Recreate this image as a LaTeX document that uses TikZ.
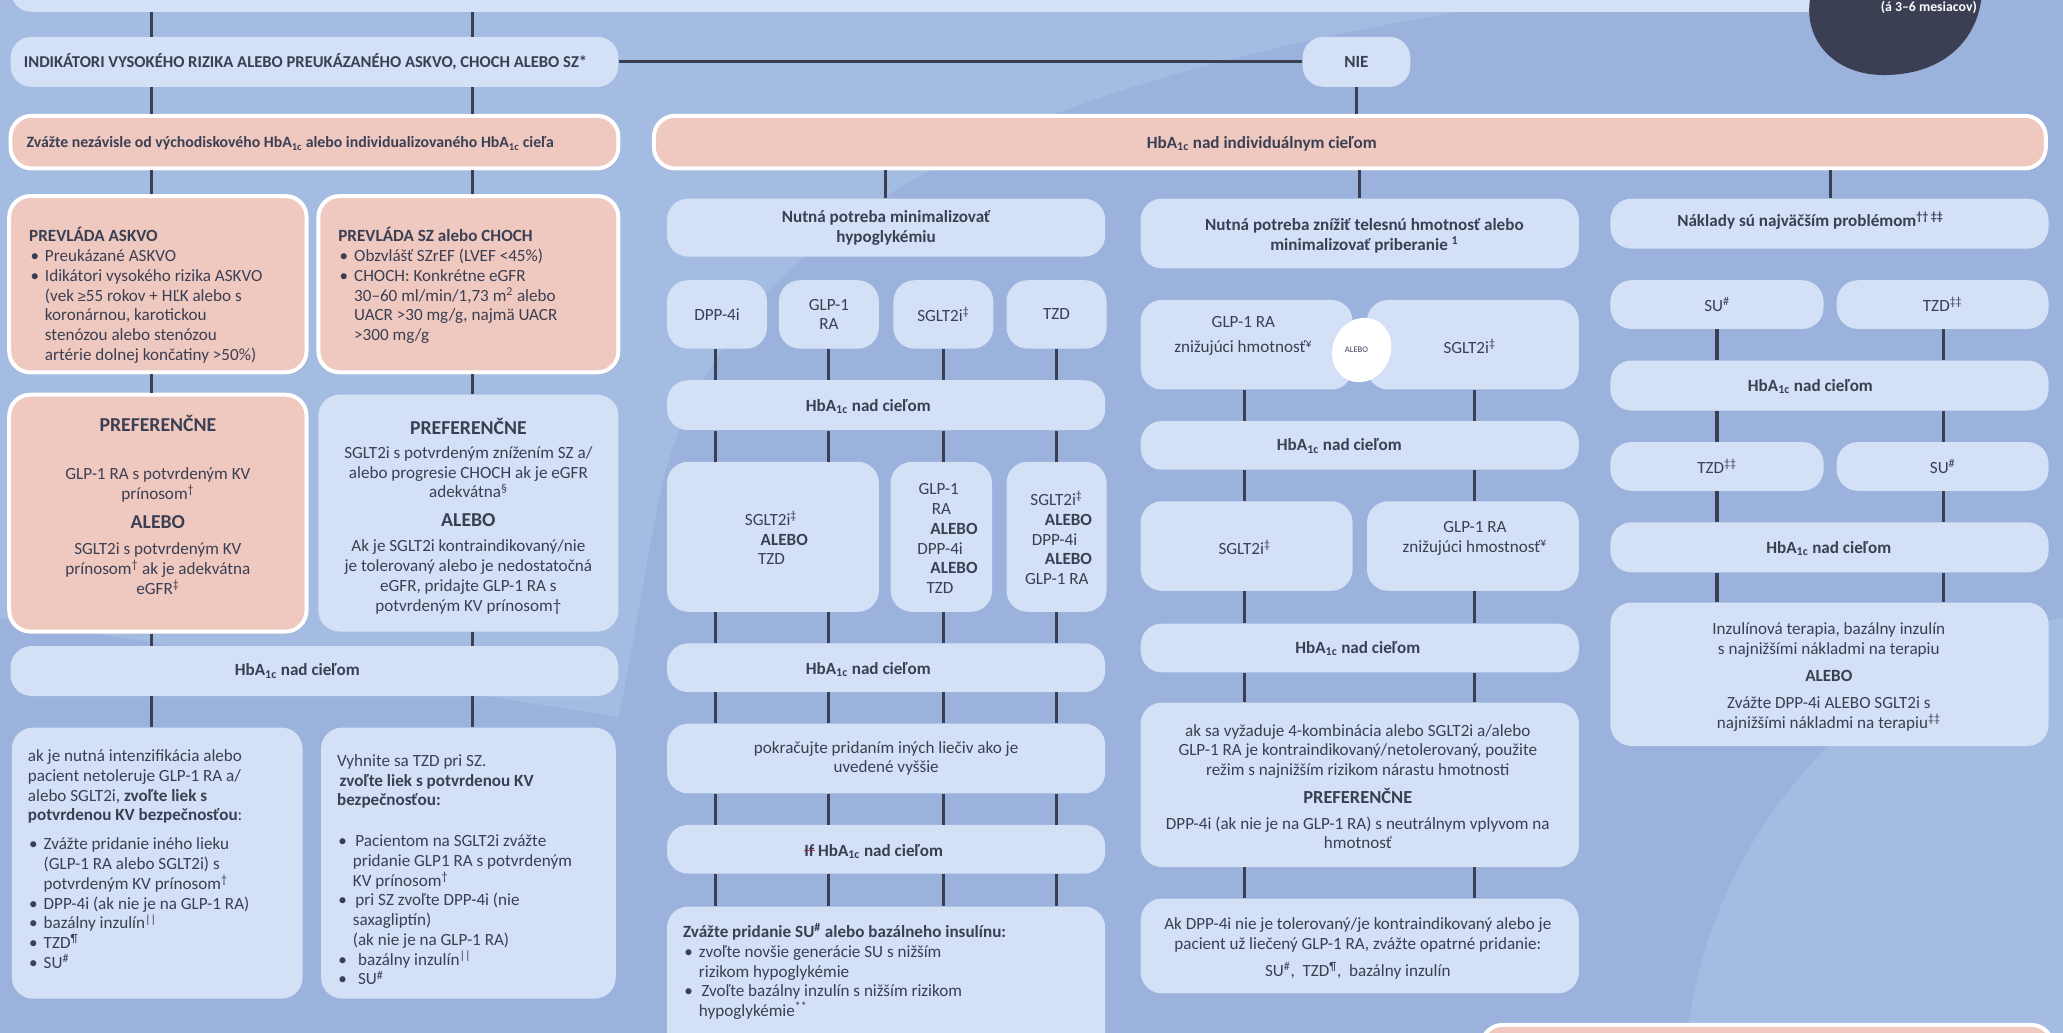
\documentclass[tikz,border=0pt]{standalone}
\usepackage{fontspec}
\setmainfont{Carlito}
\newfontfamily\symf{Liberation Sans}
\usetikzlibrary{shadows,shapes.geometric}
\definecolor{bg}{HTML}{9AB2DC}
\definecolor{bgl}{HTML}{A5BCE2}
\definecolor{lite}{HTML}{D3E0F5}
\definecolor{pinkf}{HTML}{EFC9BF}
\definecolor{ink}{HTML}{3B3F54}
\definecolor{strike}{HTML}{E03048}
\newcommand\bodyf{\fontsize{13}{15}\selectfont}
\newcommand\smhf{\fontsize{12}{14}\selectfont}
\newcommand\indf{\fontsize{12.6}{14}\selectfont}
\newcommand\bigf{\fontsize{15}{18}\selectfont}
\newcommand\midf{\fontsize{14}{17}\selectfont}
\newcommand\hba{HbA\textsubscript{1c}}
\newcommand\sps[1]{\textsuperscript{#1}}
\newcommand\bul{\makebox[11pt][l]{•}}
\tikzset{
 lbox/.style={fill=lite, draw=none, rounded corners=16pt, inner sep=0pt, text=ink, font=\bodyf, align=center},
 pbox/.style={fill=pinkf, draw=white, line width=3pt, rounded corners=16pt, inner sep=0pt, text=ink, font=\bodyf, align=center,
   drop shadow={shadow xshift=1.5pt, shadow yshift=-1.5pt, opacity=0.25}},
 conn/.style={draw=ink, line width=2.3pt},
 txt/.style={text=ink, font=\bodyf, inner sep=0pt, align=center},
 txtl/.style={text=ink, font=\bodyf, inner sep=0pt, align=left, anchor=west},
 hb/.style={text=ink, font=\bodyf\bfseries, inner sep=0pt},
}
\newcommand\bx[7]{\node[#2, minimum width={(#5)-(#3)}, minimum height={(#6)-(#4)}] (#1) at ({((#3)+(#5))/2},{((#4)+(#6))/2}) {#7};}
\begin{document}
\begin{tikzpicture}[x=1pt,y=-1pt]
\useasboundingbox (0,0) rectangle (1568,785);
\clip (0,0) rectangle (1568,785);
% background
\fill[bg] (0,0) rectangle (1568,785);
\fill[bgl] (0,0) -- (1165,0) .. controls (760,60) and (560,170) .. (505,360) .. controls (490,430) and (480,500) .. (470,545) -- (0,470) -- cycle;
\fill[bgl] (1650,830) circle[radius=370];
% column x positions
\foreach \n/\x in {ca/115, cb/359, cm0/673, cr0/1033, cn0/1391, cnie/1031, m1/544, m2/630, m3/717, m4/803, r1/946, r2/1121, n1/1305, n2/1477}
  \coordinate (\n) at (\x,0);
% top bar and dark blob
\bx{topbar}{lbox}{8}{-40}{1500}{9}{}
\fill[ink] (1376,-2) .. controls (1370,30) and (1394,58) .. (1434,57) .. controls (1480,56) and (1503,28) .. (1506,-2) -- cycle;
\node[font=\bfseries\fontsize{10.5}{12}\selectfont, text=white, inner sep=0pt] (blobtxt) at (1466,5.5) {(á 3–6 mesiacov)};
% row 1
\bx{ind}{lbox}{8}{28}{470}{66}{}
\node[hb, anchor=west, font=\indf\bfseries] (indt) at (18,47) {INDIKÁTORI VYSOKÉHO RIZIKA ALEBO PREUKÁZANÉHO ASKVO, CHOCH ALEBO SZ*};
\bx{nie}{lbox}{990}{28}{1072}{66}{\textbf{NIE}}
% row 2
\bx{hdl}{pbox}{8}{88}{470}{128}{}
\node[hb, anchor=west, font=\smhf\bfseries] (hdlt) at (20,109) {Zvážte nezávisle od východiskového \hba{} alebo individualizovaného \hba{} cieľa};
\bx{hdr}{pbox}{497}{88}{1555}{128}{}
\node[hb] (hdrt) at (959,109) {\hba{} nad individuálnym cieľom};
% ---------- left columns
\bx{ask}{pbox}{7}{149}{233}{283}{}
\node[txtl] (askt) at (22,224.5) {\textbf{PREVLÁDA ASKVO}\\
\hspace*{1pt}\bul Preukázané ASKVO\\
\hspace*{1pt}\bul Idikátori vysokého rizika ASKVO\\
\hspace*{12pt}(vek {\symf\fontsize{11}{13}\selectfont ≥}55 rokov + HĽK alebo s\\
\hspace*{12pt}koronárnou, karotickou\\
\hspace*{12pt}stenózou alebo stenózou\\
\hspace*{12pt}artérie dolnej končatiny >50\%)};
\bx{sz}{pbox}{242}{149}{470}{283}{}
\node[txtl] (szt) at (257,217) {\textbf{PREVLÁDA SZ alebo CHOCH}\\
\hspace*{1pt}\bul Obzvlášť SZrEF (LVEF <45\%)\\
\hspace*{1pt}\bul CHOCH: Konkrétne eGFR\\
\hspace*{12pt}30–60 ml/min/1,73 m\sps{2} alebo\\
\hspace*{12pt}UACR >30 mg/g, najmä UACR\\
\hspace*{12pt}>300 mg/g};
\bx{pf1}{pbox}{7}{300}{233}{480}{}
\node[txt, font=\bigf\bfseries] (p1a) at (120,322) {PREFERENČNE};
\node[txt] (p1b) at (120,368.5) {GLP-1 RA s potvrdeným KV\\prínosom\sps{†}};
\node[txt, font=\bigf\bfseries] (p1c) at (120,397) {ALEBO};
\node[txt] (p1d) at (120,432) {SGLT2i s potvrdeným KV\\prínosom\sps{†} ak je adekvátna\\eGFR\sps{‡}};
\bx{pf2}{lbox}{242}{300}{470}{480}{}
\node[txt, font=\bigf\bfseries] (p2a) at (356,324) {PREFERENČNE};
\node[txt] (p2b) at (356,359) {SGLT2i s potvrdeným znížením SZ a/\\alebo progresie CHOCH ak je eGFR\\adekvátna\sps{§}};
\node[txt, font=\bigf\bfseries] (p2c) at (356,395) {ALEBO};
\node[txt] (p2d) at (356,438.5) {Ak je SGLT2i kontraindikovaný/nie\\je tolerovaný alebo je nedostatočná\\eGFR, pridajte GLP-1 RA s\\potvrdeným KV prínosom†};
\bx{hbl}{lbox}{8}{491}{470}{529}{}
\node[hb] (hblt) at (226,510) {\hba{} nad cieľom};
\bx{bl1}{lbox}{9}{553}{230}{759}{}
\node[txtl] (bl1t) at (21,653) {ak je nutná intenzifikácia alebo\\pacient netoleruje GLP-1 RA a/\\alebo SGLT2i, \textbf{zvoľte liek s}\\\textbf{potvrdenou KV bezpečnosťou}:\\[7pt]
\hspace*{1pt}\bul Zvážte pridanie iného lieku\\
\hspace*{12pt}(GLP-1 RA alebo SGLT2i) s\\
\hspace*{12pt}potvrdeným KV prínosom\sps{†}\\
\hspace*{1pt}\bul DPP-4i (ak nie je na GLP-1 RA)\\
\hspace*{1pt}\bul bazálny inzulín\sps{||}\\
\hspace*{1pt}\bul TZD\sps{¶}\\
\hspace*{1pt}\bul SU\sps{\#}};
\bx{bl2}{lbox}{244}{553}{468}{759}{}
\node[txtl] (bl2t) at (256,661) {Vyhnite sa TZD pri SZ.\\
\hspace*{2pt}\textbf{zvoľte liek s potvrdenou KV}\\
\textbf{bezpečnosťou:}\\[16pt]
\hspace*{1pt}\bul\hspace*{2pt}Pacientom na SGLT2i zvážte\\
\hspace*{12pt}pridanie GLP1 RA s potvrdeným\\
\hspace*{12pt}KV prínosom\sps{†}\\
\hspace*{1pt}\bul\hspace*{2pt}pri SZ zvoľte DPP-4i (nie\\
\hspace*{12pt}saxagliptín)\\
\hspace*{12pt}(ak nie je na GLP-1 RA)\\
\hspace*{1pt}\bul\hspace*{4pt}bazálny inzulín\sps{||}\\
\hspace*{1pt}\bul\hspace*{4pt}SU\sps{\#}};
% ---------- middle column
\bx{mt}{lbox}{507}{151}{840}{195}{\textbf{Nutná potreba minimalizovať}\\\textbf{hypoglykémiu}}
\bx{ms1}{lbox}{507}{213}{583}{265}{DPP-4i}
\bx{ms2}{lbox}{592}{213}{668}{265}{GLP-1\\RA}
\bx{ms3}{lbox}{679}{213}{755}{265}{SGLT2i\sps{‡}}
\bx{ms4}{lbox}{765}{213}{841}{265}{TZD}
\bx{mh1}{lbox}{507}{289}{840}{327}{}
\node[hb] (mh1t) at (660,309) {\hba{} nad cieľom};
\bx{ma}{lbox}{507}{351}{668}{465}{}
\node[txtl] (mat) at (566,409) {SGLT2i\sps{‡}\\\hspace*{12pt}\textbf{ALEBO}\\\hspace*{10pt}TZD};
\bx{mb}{lbox}{677}{351}{754}{465}{}
\node[txtl] (mbt) at (697,409.5) {\hspace*{1pt}GLP-1\\\hspace*{11pt}RA\\\hspace*{10pt}\textbf{ALEBO}\\DPP-4i\\\hspace*{10pt}\textbf{ALEBO}\\\hspace*{7pt}TZD};
\bx{mc}{lbox}{765}{351}{841}{465}{}
\node[txtl] (mct) at (779,409) {\hspace*{4pt}SGLT2i\sps{‡}\\\hspace*{15pt}\textbf{ALEBO}\\\hspace*{5pt}DPP-4i\\\hspace*{15pt}\textbf{ALEBO}\\GLP-1 RA};
\bx{mh2}{lbox}{507}{489}{840}{526}{}
\node[hb] (mh2t) at (660,509) {\hba{} nad cieľom};
\bx{mp}{lbox}{507}{550}{840}{603}{pokračujte pridaním iných liečiv ako je\\uvedené vyššie}
\bx{mh3}{lbox}{507}{627}{840}{664}{}
\node[hb] (mh3t) at (664,647) {\rlap{\textcolor{strike}{\rule[0.27em]{0.6em}{0.1em}}}If \hba{} nad cieľom};
\bx{mz}{lbox}{507}{689}{840}{800}{}
\node[txtl] (mzt) at (519,738.5) {\textbf{Zvážte pridanie SU\sps{\#} alebo bazálneho insulínu:}\\
\hspace*{1pt}\bul zvoľte novšie generácie SU s nižším\\
\hspace*{12pt}rizikom hypoglykémie\\
\hspace*{1pt}\bul\hspace*{2pt}Zvoľte bazálny inzulín s nižším rizikom\\
\hspace*{12pt}hypoglykémie\sps{**}};
% ---------- right-middle column
\bx{rt}{lbox}{867}{151}{1200}{204}{}
\node[txt, font=\bodyf\bfseries] (rtt) at (1037,179) {Nutná potreba znížiť telesnú hmotnosť alebo\\minimalizovať priberanie \sps{1}};
\bx{ra}{lbox}{867}{228}{1028}{296}{}
\node[txt] (rat) at (945,255.5) {GLP-1 RA\\[4pt]znižujúci hmotnosť\sps{¥}};
\bx{rb}{lbox}{1039}{228}{1200}{296}{}
\node[txt] (rbt) at (1117,263) {SGLT2i\sps{‡}};
\node[fill=white, ellipse, minimum width=44pt, minimum height=50pt, inner sep=0pt, rotate=-25] (orb) at (1035,266) {};
\node[txt, font=\fontsize{6.5}{8}\selectfont] (orbt) at (1031,266) {ALEBO};
\bx{rh1}{lbox}{867}{320}{1200}{357}{}
\node[hb] (rh1t) at (1018,339) {\hba{} nad cieľom};
\bx{rc}{lbox}{867}{381}{1028}{449}{}
\node[txt] (rct) at (946,416) {SGLT2i\sps{‡}};
\bx{rd}{lbox}{1039}{381}{1200}{449}{}
\node[txt] (rdt) at (1121,409) {GLP-1 RA\\znižujúci hmostnosť\sps{¥}};
\bx{rh2}{lbox}{867}{474}{1200}{511}{}
\node[hb] (rh2t) at (1032,493) {\hba{} nad cieľom};
\bx{re}{lbox}{867}{534}{1200}{659}{}
\node[txt] (ret1) at (1032,571) {ak sa vyžaduje 4-kombinácia alebo SGLT2i a/alebo\\GLP-1 RA je kontraindikovaný/netolerovaný, použite\\režim s najnižším rizikom nárastu hmotnosti};
\node[txt, font=\midf\bfseries] (ret2) at (1032,605) {PREFERENČNE};
\node[txt] (ret3) at (1032,633) {DPP-4i (ak nie je na GLP-1 RA) s neutrálnym vplyvom na\\hmotnosť};
\bx{rf}{lbox}{867}{683}{1200}{755}{}
\node[txt] (rft1) at (1032,710.5) {Ak DPP-4i nie je tolerovaný/je kontraindikovaný alebo je\\pacient už liečený GLP-1 RA, zvážte opatrné pridanie:};
\node[txt] (rft2) at (1032,738) {SU\sps{\#},\ \ TZD\sps{¶},\ \ bazálny inzulín};
% ---------- right column
\bx{nt}{lbox}{1224}{151}{1557}{189}{}
\node[hb] (ntt) at (1376,168) {Náklady sú najväčším problémom\sps{†† ‡‡}};
\bx{nsu1}{lbox}{1224}{213}{1386}{250}{SU\sps{\#}}
\bx{ntz1}{lbox}{1396}{213}{1557}{250}{TZD\sps{‡‡}}
\bx{nh1}{lbox}{1224}{274}{1557}{312}{}
\node[hb] (nh1t) at (1376,294) {\hba{} nad cieľom};
\bx{ntz2}{lbox}{1224}{336}{1386}{373}{TZD\sps{‡‡}}
\bx{nsu2}{lbox}{1396}{336}{1557}{373}{SU\sps{\#}}
\bx{nh2}{lbox}{1224}{397}{1557}{435}{}
\node[hb] (nh2t) at (1390,417) {\hba{} nad cieľom};
\bx{nf}{lbox}{1224}{458}{1557}{567}{}
\node[txt] (nft1) at (1390,486.5) {Inzulínová terapia, bazálny inzulín\\s najnižšími nákladmi na terapiu};
\node[txt, font=\bodyf\bfseries] (nft2) at (1390,514) {ALEBO};
\node[txt] (nft3) at (1390,542.5) {Zvážte DPP-4i ALEBO SGLT2i s\\najnižšími nákladmi na terapiu\sps{‡‡}};
% bottom-right pink box
\bx{bpk}{pbox}{1126}{779}{1560}{840}{}
% ---------- connectors
\draw[conn] (topbar.south -| ca) -- (ind.north -| ca);
\draw[conn] (topbar.south -| cb) -- (ind.north -| cb);
\draw[conn] (ind.east) -- (nie.west);
\draw[conn] (ind.south -| ca) -- (hdl.north -| ca);
\draw[conn] (ind.south -| cb) -- (hdl.north -| cb);
\draw[conn] (nie.south -| cnie) -- (hdr.north -| cnie);
\draw[conn] (hdl.south -| ca) -- (ask.north -| ca);
\draw[conn] (hdl.south -| cb) -- (sz.north -| cb);
\draw[conn] (ask.south -| ca) -- (pf1.north -| ca);
\draw[conn] (sz.south -| cb) -- (pf2.north -| cb);
\draw[conn] (pf1.south -| ca) -- (hbl.north -| ca);
\draw[conn] (pf2.south -| cb) -- (hbl.north -| cb);
\draw[conn] (hbl.south -| ca) -- (bl1.north -| ca);
\draw[conn] (hbl.south -| cb) -- (bl2.north -| cb);
\draw[conn] (hdr.south -| cm0) -- (mt.north -| cm0);
\draw[conn] (hdr.south -| cr0) -- (rt.north -| cr0);
\draw[conn] (hdr.south -| cn0) -- (nt.north -| cn0);
% middle
\draw[conn] (ms1.south -| m1) -- (mh1.north -| m1);
\draw[conn] (ms2.south -| m2) -- (mh1.north -| m2);
\draw[conn] (ms3.south -| m3) -- (mh1.north -| m3);
\draw[conn] (ms4.south -| m4) -- (mh1.north -| m4);
\draw[conn] (mh1.south -| m1) -- (ma.north -| m1);
\draw[conn] (mh1.south -| m2) -- (ma.north -| m2);
\draw[conn] (mh1.south -| m3) -- (mb.north -| m3);
\draw[conn] (mh1.south -| m4) -- (mc.north -| m4);
\draw[conn] (ma.south -| m1) -- (mh2.north -| m1);
\draw[conn] (ma.south -| m2) -- (mh2.north -| m2);
\draw[conn] (mb.south -| m3) -- (mh2.north -| m3);
\draw[conn] (mc.south -| m4) -- (mh2.north -| m4);
\foreach \c in {m1,m2,m3,m4}{
  \draw[conn] (mh2.south -| \c) -- (mp.north -| \c);
  \draw[conn] (mp.south -| \c) -- (mh3.north -| \c);
  \draw[conn] (mh3.south -| \c) -- (mz.north -| \c);
}
% right-middle
\draw[conn] (ra.south -| r1) -- (rh1.north -| r1);
\draw[conn] (rb.south -| r2) -- (rh1.north -| r2);
\draw[conn] (rh1.south -| r1) -- (rc.north -| r1);
\draw[conn] (rh1.south -| r2) -- (rd.north -| r2);
\draw[conn] (rc.south -| r1) -- (rh2.north -| r1);
\draw[conn] (rd.south -| r2) -- (rh2.north -| r2);
\foreach \c in {r1,r2}{
  \draw[conn] (rh2.south -| \c) -- (re.north -| \c);
  \draw[conn] (re.south -| \c) -- (rf.north -| \c);
}
% right
\draw[conn] (nsu1.south -| n1) -- (nh1.north -| n1);
\draw[conn] (ntz1.south -| n2) -- (nh1.north -| n2);
\draw[conn] (nh1.south -| n1) -- (ntz2.north -| n1);
\draw[conn] (nh1.south -| n2) -- (nsu2.north -| n2);
\draw[conn] (ntz2.south -| n1) -- (nh2.north -| n1);
\draw[conn] (nsu2.south -| n2) -- (nh2.north -| n2);
\draw[conn] (nh2.south -| n1) -- (nf.north -| n1);
\draw[conn] (nh2.south -| n2) -- (nf.north -| n2);
\end{tikzpicture}
\end{document}
